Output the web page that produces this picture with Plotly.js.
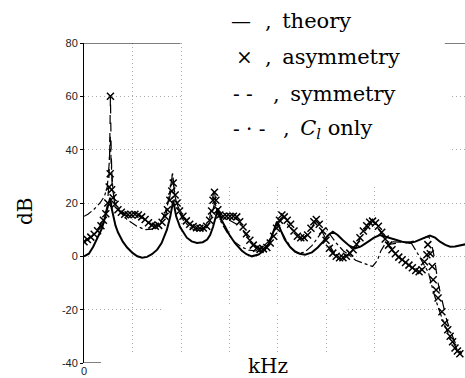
<!DOCTYPE html>
<html>
<head>
<meta charset="utf-8">
<script src="https://cdn.plot.ly/plotly-3.0.1.min.js"></script>
<style>html,body{margin:0;padding:0;background:#fff;}#chart{width:465px;height:378px;}</style>
</head>
<body>
<div id="chart"></div>
<script>
// Theory (solid line)
var theoryX = [0,0.1,0.19,0.3,0.37,0.43,0.47,0.51,0.54,0.57,0.60,0.65,0.70,0.8,0.89,1.0,1.1,1.2,1.3,1.4,1.51,1.6,1.71,1.78,1.84,1.9,1.98,2.05,2.12,2.22,2.33,2.45,2.54,2.6,2.66,2.72,2.76,2.81,2.91,3.0,3.11,3.25,3.35,3.46,3.6,3.73,3.82,3.9,3.98,4.05,4.14,4.25,4.35,4.45,4.56,4.7,4.82,4.93,5.03,5.13,5.23,5.34,5.47,5.59,5.72,5.86,5.98,6.10,6.25,6.41,6.56,6.72,6.83,6.93,7.03,7.13,7.24,7.34,7.45,7.55,7.65,7.75,7.86];
var theoryY = [0,1,3.6,7.5,10.5,14.5,17,20,22,18,15,11.5,9,5.5,3.3,1.3,0,-0.5,-0.2,0.8,2.5,5,10,15,21,15,11,8.8,7,5.6,5,5.3,6.3,8,11,15,18,14.5,11,8,5,2.2,0.8,0,0.7,2.5,5,9,13,10,6.3,3.5,1.8,1,0.6,1.5,3.3,5.5,7.8,9.2,8,6,4,3,3.8,5.5,7,8,7.3,6.3,5.5,5,5.5,6.3,7.2,7.8,7,5.5,4.3,3.6,3.7,4.2,4.5];

// Asymmetry (x markers)
var asymX = [0,0.07,0.14,0.21,0.28,0.35,0.40,0.45,0.49,0.52,0.54,0.545,0.57,0.60,0.64,0.70,0.77,0.84,0.91,0.98,1.05,1.12,1.19,1.26,1.33,1.40,1.47,1.54,1.61,1.67,1.72,1.77,1.81,1.84,1.88,1.92,1.97,2.04,2.11,2.18,2.25,2.32,2.39,2.46,2.53,2.59,2.63,2.66,2.69,2.72,2.76,2.80,2.87,2.94,3.01,3.08,3.15,3.21,3.28,3.35,3.42,3.49,3.56,3.63,3.70,3.77,3.84,3.91,3.97,4.03,4.08,4.13,4.19,4.26,4.33,4.40,4.47,4.54,4.61,4.68,4.74,4.79,4.85,4.92,4.99,5.06,5.13,5.20,5.27,5.34,5.41,5.48,5.55,5.62,5.69,5.76,5.83,5.89,5.95,6.01,6.07,6.14,6.21,6.28,6.35,6.42,6.49,6.56,6.63,6.70,6.77,6.84,6.91,6.97,7.02,7.07,7.09,7.14,7.18,7.20,7.26,7.30,7.38,7.44,7.50,7.55,7.60,7.65,7.70,7.75];
var asymY = [5.5,6.3,7.2,8.3,9.6,11.5,13.5,16,20,26,31,60,25,22,19.5,17.5,16.5,15.8,15.6,15.6,15.8,15.5,14.8,13.8,12.6,11.7,11.3,11.6,12.8,15,17.5,21,24.5,27.5,23,20,17,15,13.3,12,11.2,10.7,10.5,10.6,11.3,13.5,17,21,24,21,17.5,15.5,15,15,15,15,14.8,13,11,8.5,6,4.2,3,2.6,2.8,3.3,5,7.5,10.5,13.5,15.5,14.8,13.5,12,9.5,7.5,7,7,8,10.5,13,13.8,12,9.5,6,3,1.2,0,-0.5,-0.5,0,1.2,2.5,4.5,7,9.5,11.5,12.8,13.2,12.5,11.3,9,6.5,4.2,2.5,1,-0.3,-1.3,-2.3,-3.3,-4.3,-5.3,-5.8,-5,-2,0.6,4.4,1,-3.8,-8.8,-12.6,-15.6,-20.8,-25,-27.5,-30,-32,-34.4,-35.5,-36.5];

// Symmetry (dashed)
var symX = [0,0.15,0.3,0.42,0.48,0.51,0.53,0.545,0.56,0.58,0.63,0.72,0.9,1.1,1.25,1.4,1.55,1.67,1.75,1.8,1.82,1.86,1.93,2.05,2.25,2.45,2.57,2.64,2.68,2.72,2.8,3.0,3.15,3.3,3.45,3.6,3.75,3.9,4.0,4.08,4.2,4.35,4.5,4.65,4.76,4.85,5.0,5.15,5.3,5.45,5.6,5.75,5.9,6.0,6.12,6.28,6.5,6.75,6.95,7.1,7.15,7.22,7.3,7.38,7.48,7.6,7.69,7.79];
var symY = [5.5,7.5,10.5,14.5,19,26,40,60,40,27,20,17,15.8,15.5,14,12,11.5,14.5,20,26,31,25,19,14.5,11,10.3,12.5,19,26,20,15,13.5,12,9,5.5,3,3.5,8,12,14.5,12,8.5,6.5,9,13,11.5,6,1.5,-0.5,0.5,3.5,8.5,12,12,9,4.5,5,5.5,6.5,7.5,6,0,-10,-16,-24,-30,-34,-36.5];

// C_l only (dash-dot)
var clX = [0,0.08,0.2,0.33,0.42,0.48,0.52,0.54,0.56,0.6,0.66,0.75,0.89,1.09,1.26,1.4,1.5,1.62,1.72,1.79,1.83,1.87,1.95,2.05,2.2,2.35,2.5,2.6,2.66,2.7,2.75,2.85,2.95,3.1,3.25,3.4,3.55,3.69,3.8,3.88,3.95,4.0,4.08,4.17,4.28,4.4,4.55,4.7,4.82,4.92,5.0,5.08,5.2,5.35,5.5,5.6,5.75,5.95,6.05,6.12,6.2,6.3,6.55,6.75,6.85,6.95,7.02,7.1,7.2,7.3,7.42,7.55,7.7,7.8];
var clY = [15,15.8,17.5,20,22.5,26,35,45,35,24,19,16.5,13.8,11.3,10,10.2,11.5,14,19,26,31,23,17,13.5,10.5,9.5,10,13,18,20.5,16,12,9,5.5,3.5,2.3,2,3.6,5.5,8,11,12.5,9,6,3,1.2,1.5,4,7,9.5,10.5,8,5,2,0,-1.5,-2.5,-3.8,-1.5,2,4.4,5.5,5.3,4.9,2,-1.3,-3.5,-6,-13,-19,-25,-30.5,-35,-37];

var yTicks = [-40,-20,0,20,40,60,80];
var yTickText = ['-40','-20','0','20','40','60','80'];
var xTicks = [0];
var xTickText = ['0'];
var xGrid = [1,2,3,4,5,6];

var legendSymbols = ['\u2014', '\u00D7', '- -', '- \u00B7 -'];
var legendLabels = [',\u2002theory', ',\u2002asymmetry', ',\u2002symmetry', ',\u2002<i>C<sub>l</sub></i> only'];

// pixel helpers for annotation placement (plot area: left 84, right 465, top 43, bottom 363)
function px(x){ return (x-84)/381; }
function py(y){ return (363-y)/320; }

var serif = "'DejaVu Serif', serif";

var traces = [
  {x: theoryX, y: theoryY, type:'scatter', mode:'lines', line:{color:'#000', width:2}, hoverinfo:'skip'},
  {x: symX, y: symY, type:'scatter', mode:'lines', line:{color:'#000', width:1.2, dash:'dash'}, hoverinfo:'skip'},
  {x: clX, y: clY, type:'scatter', mode:'lines', line:{color:'#000', width:1.2, dash:'dashdot'}, hoverinfo:'skip'},
  {x: asymX, y: asymY, type:'scatter', mode:'markers', marker:{symbol:'x-thin', size:7, color:'#000', line:{color:'#000', width:1.5}}, hoverinfo:'skip'}
];

var annotations = [
  {text:'dB', xref:'paper', yref:'paper', x:px(25), y:py(211), xanchor:'center', yanchor:'middle', textangle:-90, showarrow:false, font:{family:serif, size:20, color:'#000'}},
  {text:'kHz', xref:'paper', yref:'paper', x:px(268), y:py(366), xanchor:'center', yanchor:'middle', showarrow:false, font:{family:serif, size:20, color:'#000'}}
];
var rowY = [21, 57, 94, 129];
var symStart = [229, 234, 231, 231];
var labStart = [263, 263, 271, 281];
for (var i = 0; i < 4; i++) {
  annotations.push({text: legendSymbols[i], xref:'paper', yref:'paper', x:px(symStart[i]), y:py(rowY[i]), xanchor:'left', yanchor:'middle', showarrow:false, font:{family:serif, size:20, color:'#000'}});
  annotations.push({text: legendLabels[i], xref:'paper', yref:'paper', x:px(labStart[i]), y:py(rowY[i]), xanchor:'left', yanchor:'middle', showarrow:false, font:{family:serif, size:21, color:'#000'}});
}

var shapes = [
  // white legend backdrop hides grid under the legend, as in the reference
  {type:'rect', layer:'between', xref:'x', yref:'y', x0:2.04, x1:7.55, y0:27, y1:80, fillcolor:'#fff', line:{width:0}},
  // faded bottom of the grid and gap of the -20 line
  {type:'rect', layer:'between', xref:'x', yref:'y', x0:0.02, x1:7.86, y0:-40, y1:-36.5, fillcolor:'#fff', line:{width:0}},
  {type:'rect', layer:'between', xref:'x', yref:'y', x0:1.62, x1:5.45, y0:-21, y1:-19, fillcolor:'#fff', line:{width:0}},
  {type:'line', xref:'x', yref:'y', x0:0, x1:1.99, y0:80, y1:80, line:{color:'#000', width:1}},
  {type:'line', xref:'x', yref:'y', x0:7.44, x1:7.86, y0:80, y1:80, line:{color:'#000', width:1}},
  {type:'line', xref:'x', yref:'y', x0:0, x1:0.35, y0:-40, y1:-40, line:{color:'#000', width:1}}
];

var layout = {
  width:465, height:378,
  margin:{l:84, r:0, t:43, b:15, pad:0},
  paper_bgcolor:'#fff', plot_bgcolor:'#fff',
  showlegend:false,
  font:{family:"'Liberation Sans', Arial, sans-serif", size:11, color:'#222'},
  xaxis:{range:[0, 7.856], tickmode:'array', tickvals:xTicks, ticktext:xTickText, ticks:'', showline:false, zeroline:false,
         showgrid:false, fixedrange:true, tickfont:{size:11},
         minor:{tickmode:'array', tickvals:xGrid, ticks:'', showgrid:true, gridcolor:'#aaa', griddash:'1px,3px', gridwidth:1}},
  yaxis:{range:[-40, 80], tickmode:'array', tickvals:yTicks, ticktext:yTickText, ticks:'outside', ticklen:3, tickcolor:'#000',
         showline:true, linecolor:'#000', linewidth:1, zeroline:false,
         showgrid:true, gridcolor:'#aaa', griddash:'1px,3px', gridwidth:1, fixedrange:true, tickfont:{size:11}},
  annotations: annotations,
  shapes: shapes
};

Plotly.newPlot('chart', traces, layout, {staticPlot:true, displayModeBar:false});
</script>
</body>
</html>
